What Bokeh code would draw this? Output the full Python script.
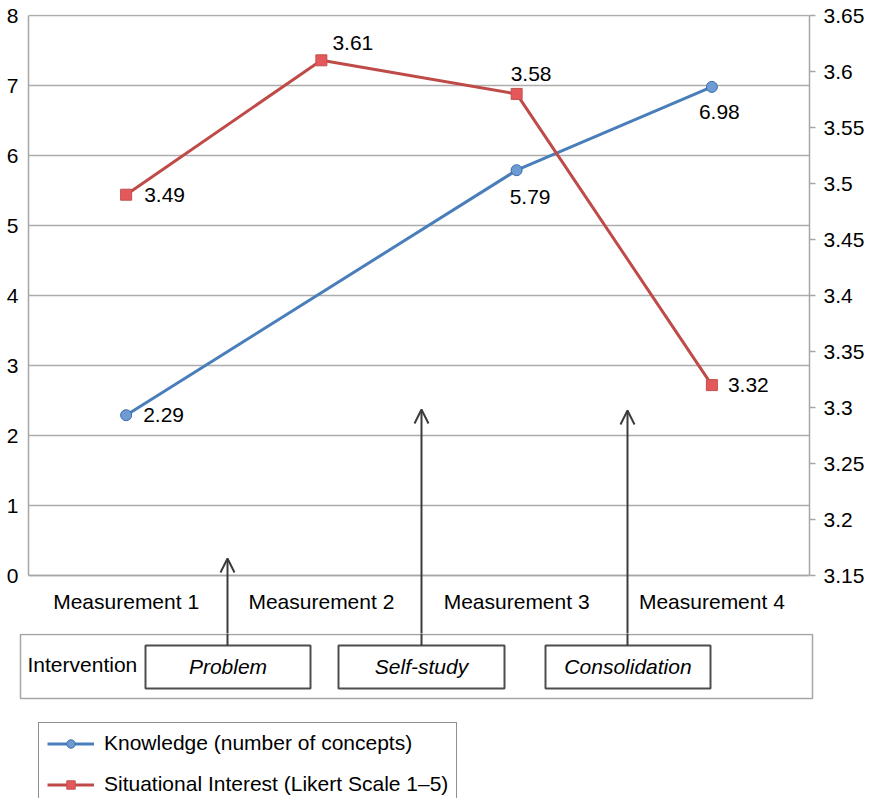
from bokeh.plotting import figure
from bokeh.layouts import column
from bokeh.models import (Range1d, LinearAxis, FixedTicker, ColumnDataSource, BoxAnnotation,
                          Label, Arrow, OpenHead, Legend, LegendItem)
from bokeh.embed import file_html
from bokeh.resources import INLINE
from bokeh.core.properties import value

# ---------------- data ----------------
categories = ["Measurement 1", "Measurement 2", "Measurement 3", "Measurement 4"]
knowledge_categories = ["Measurement 1", "Measurement 3", "Measurement 4"]
knowledge = [2.29, 5.79, 6.98]
interest = [3.49, 3.61, 3.58, 3.32]
left_ticks = [0, 1, 2, 3, 4, 5, 6, 7, 8]
right_ticks = [3.15, 3.2, 3.25, 3.3, 3.35, 3.4, 3.45, 3.5, 3.55, 3.6, 3.65]
interventions = ["Problem", "Self-study", "Consolidation"]
series_names = ["Knowledge (number of concepts)", "Situational Interest (Likert Scale 1\u20135)"]

# ---------------- layout constants (pixels) ----------------
FONT = "Liberation Sans"
FS = "21px"
W, H = 870, 798
XL, XR = 28, 809          # plot area left / right
YT, YB = 15, 575          # value 8 / value 0
TOP = 14                  # top of first frame
SPLIT = 633               # boundary between the two figures
NCAT = len(categories)
YMAX = left_ticks[-1]
PXU = (YB - YT) / YMAX                       # px per left unit
RPX = (YB - YT) / (right_ticks[-1] - right_ticks[0])  # px per right unit


def dx(px):
    return (px - XL) / (XR - XL) * NCAT


def dy(py):
    return (YB - py) / PXU


cat_x = {c: i + 0.5 for i, c in enumerate(categories)}
kx = [cat_x[c] for c in knowledge_categories]
ix = [cat_x[c] for c in categories]

# ================= main chart =================
p = figure(frame_width=XR - XL, frame_height=SPLIT - TOP, output_backend="svg", toolbar_location=None,
           x_range=Range1d(0, NCAT),
           y_range=Range1d(-(SPLIT - YB) / PXU, YMAX + (YT - TOP) / PXU),
           min_border_left=XL, min_border_right=W - XR, min_border_top=TOP, min_border_bottom=0)
p.frame_align = False
p.extra_y_ranges = {"interest": Range1d(right_ticks[0] - (SPLIT - YB) / RPX,
                                        right_ticks[-1] + (YT - TOP) / RPX)}
p.outline_line_color = None
p.background_fill_color = "white"
p.border_fill_color = "white"

GRID = "#acacac"
AXC = "#a6a6a6"

p.xgrid.visible = False
p.ygrid.grid_line_color = GRID
p.ygrid.grid_line_width = 1.6
p.ygrid.ticker = FixedTicker(ticks=left_ticks)

# x axis (category labels), fixed at value 0
xa = p.xaxis[0]
xa.fixed_location = 0
xa.ticker = FixedTicker(ticks=ix)
xa.major_label_overrides = {cat_x[c]: c for c in categories}
xa.major_tick_out = 0
xa.major_tick_in = 0
xa.minor_tick_out = 0
xa.minor_tick_in = 0
xa.axis_line_color = AXC
xa.axis_line_width = 1.5
xa.major_label_text_font = FONT
xa.major_label_text_font_size = FS
xa.major_label_text_color = "black"
xa.major_label_standoff = 14

# left axis
ya = p.yaxis[0]
ya.ticker = FixedTicker(ticks=left_ticks)
ya.bounds = (left_ticks[0], left_ticks[-1])
ya.major_tick_out = 0
ya.major_tick_in = 0
ya.minor_tick_out = 0
ya.minor_tick_in = 0
ya.axis_line_color = AXC
ya.axis_line_width = 1.5
ya.major_label_text_font = FONT
ya.major_label_text_font_size = FS
ya.major_label_text_color = "black"
ya.major_label_standoff = 10

# right axis
ra = LinearAxis(y_range_name="interest", ticker=FixedTicker(ticks=right_ticks),
                bounds=(right_ticks[0], right_ticks[-1]))
ra.major_label_overrides = {t: f"{t:g}" for t in right_ticks}
ra.major_tick_out = 6
ra.major_tick_in = 0
ra.minor_tick_out = 0
ra.minor_tick_in = 0
ra.major_tick_line_color = AXC
ra.major_tick_line_width = 1.5
ra.axis_line_color = AXC
ra.axis_line_width = 1.5
ra.major_label_text_font = FONT
ra.major_label_text_font_size = FS
ra.major_label_text_color = "black"
ra.major_label_standoff = 8
p.add_layout(ra, "right")

# series
BLUE, BLUE_FILL, BLUE_EDGE = "#4a7ebb", "#6e9bd4", "#3d6cab"
RED, RED_FILL, RED_EDGE = "#be4b48", "#e4585b", "#c0504d"

ksrc = ColumnDataSource(dict(x=kx, y=knowledge, t=[f"{v:.2f}" for v in knowledge]))
isrc = ColumnDataSource(dict(x=ix, y=interest, t=[f"{v:.2f}" for v in interest]))

K_LINE = dict(line_color=BLUE, line_width=3)
K_MARK = dict(marker="circle", size=11, fill_color=BLUE_FILL, line_color=BLUE_EDGE, line_width=1)
I_LINE = dict(line_color=RED, line_width=3)
I_MARK = dict(marker="square", size=11, fill_color=RED_FILL, line_color=RED_EDGE, line_width=1)

p.line("x", "y", source=ksrc, **K_LINE)
p.scatter("x", "y", source=ksrc, **K_MARK)
p.line("x", "y", source=isrc, y_range_name="interest", **I_LINE)
p.scatter("x", "y", source=isrc, y_range_name="interest", **I_MARK)

# data labels (pixel offsets)
ksrc.data["xo"] = [17, -7, -13]
ksrc.data["yo"] = [0, 27, 25]
isrc.data["xo"] = [18, 11, -6, 16]
isrc.data["yo"] = [0, -17, -20, 0]
p.text("x", "y", text="t", source=ksrc, x_offset="xo", y_offset="yo", text_align="left",
       text_baseline="middle", text_font=value(FONT), text_font_size=FS, text_color="black")
p.text("x", "y", text="t", source=isrc, x_offset="xo", y_offset="yo", text_align="left",
       text_baseline="middle", text_font=value(FONT), text_font_size=FS, text_color="black",
       y_range_name="interest")

# intervention arrows (upper part)
ARC = "#3c3c3c"
arrow_px = [(227, 558), (421, 409), (627, 410)]
for axp, tip in arrow_px:
    p.add_layout(Arrow(end=OpenHead(size=14, line_color=ARC, line_width=2),
                       x_start=dx(axp), y_start=dy(SPLIT + 2), x_end=dx(axp), y_end=dy(tip),
                       line_color=ARC, line_width=2))

# ================= intervention panel + legend =================
p2 = figure(frame_width=W, frame_height=H - SPLIT, output_backend="svg", toolbar_location=None,
            x_range=Range1d(0, W), y_range=Range1d(H, SPLIT),
            x_axis_location=None, y_axis_location=None,
            min_border_left=0, min_border_right=0, min_border_top=0, min_border_bottom=0)
p2.frame_align = False
p2.outline_line_color = None
p2.background_fill_color = "white"
p2.border_fill_color = "white"
p2.xgrid.visible = False
p2.ygrid.visible = False

p2.add_layout(BoxAnnotation(left=20, right=812, top=634, bottom=698,
                            fill_color="white", fill_alpha=1, line_color=AXC, line_width=1.5,
                            line_alpha=1))
box_px = [(145, 310), (338, 504), (545, 710)]
for (l, r), name in zip(box_px, interventions):
    p2.add_layout(BoxAnnotation(left=l, right=r, top=645, bottom=688,
                                fill_color="white", fill_alpha=1, line_color="#4d4d4d",
                                line_width=2, line_alpha=1))
    p2.add_layout(Label(x=(l + r) / 2, y=666, text=name, text_align="center",
                        text_baseline="middle", text_font=FONT, text_font_size=FS,
                        text_font_style="italic", text_color="black"))
p2.add_layout(Label(x=27, y=664, text="Intervention", text_align="left",
                    text_baseline="middle", text_font=FONT, text_font_size=FS, text_color="black"))
for axp, tip in arrow_px:
    p2.add_layout(Arrow(end=None, x_start=axp, y_start=SPLIT - 2, x_end=axp, y_end=645,
                        line_color=ARC, line_width=2))

# legend proxies (same data, outside this panel's visible range)
kl2 = p2.line(kx, knowledge, **K_LINE)
ks2 = p2.scatter(kx, knowledge, **K_MARK)
il2 = p2.line(ix, interest, **I_LINE)
is2 = p2.scatter(ix, interest, **I_MARK)

legend = Legend(items=[LegendItem(label=series_names[0], renderers=[kl2, ks2]),
                       LegendItem(label=series_names[1], renderers=[il2, is2])],
                location=(38, -7), margin=0, padding=8, spacing=17,
                glyph_width=47, glyph_height=21, label_height=21, label_standoff=10,
                label_text_font=FONT, label_text_font_size=FS, label_text_color="black",
                border_line_color="#222222", border_line_width=1.5,
                background_fill_color="white", background_fill_alpha=1)
p2.add_layout(legend)

layout = column(p, p2, spacing=0)
open("out.html", "w").write(file_html(layout, INLINE))
